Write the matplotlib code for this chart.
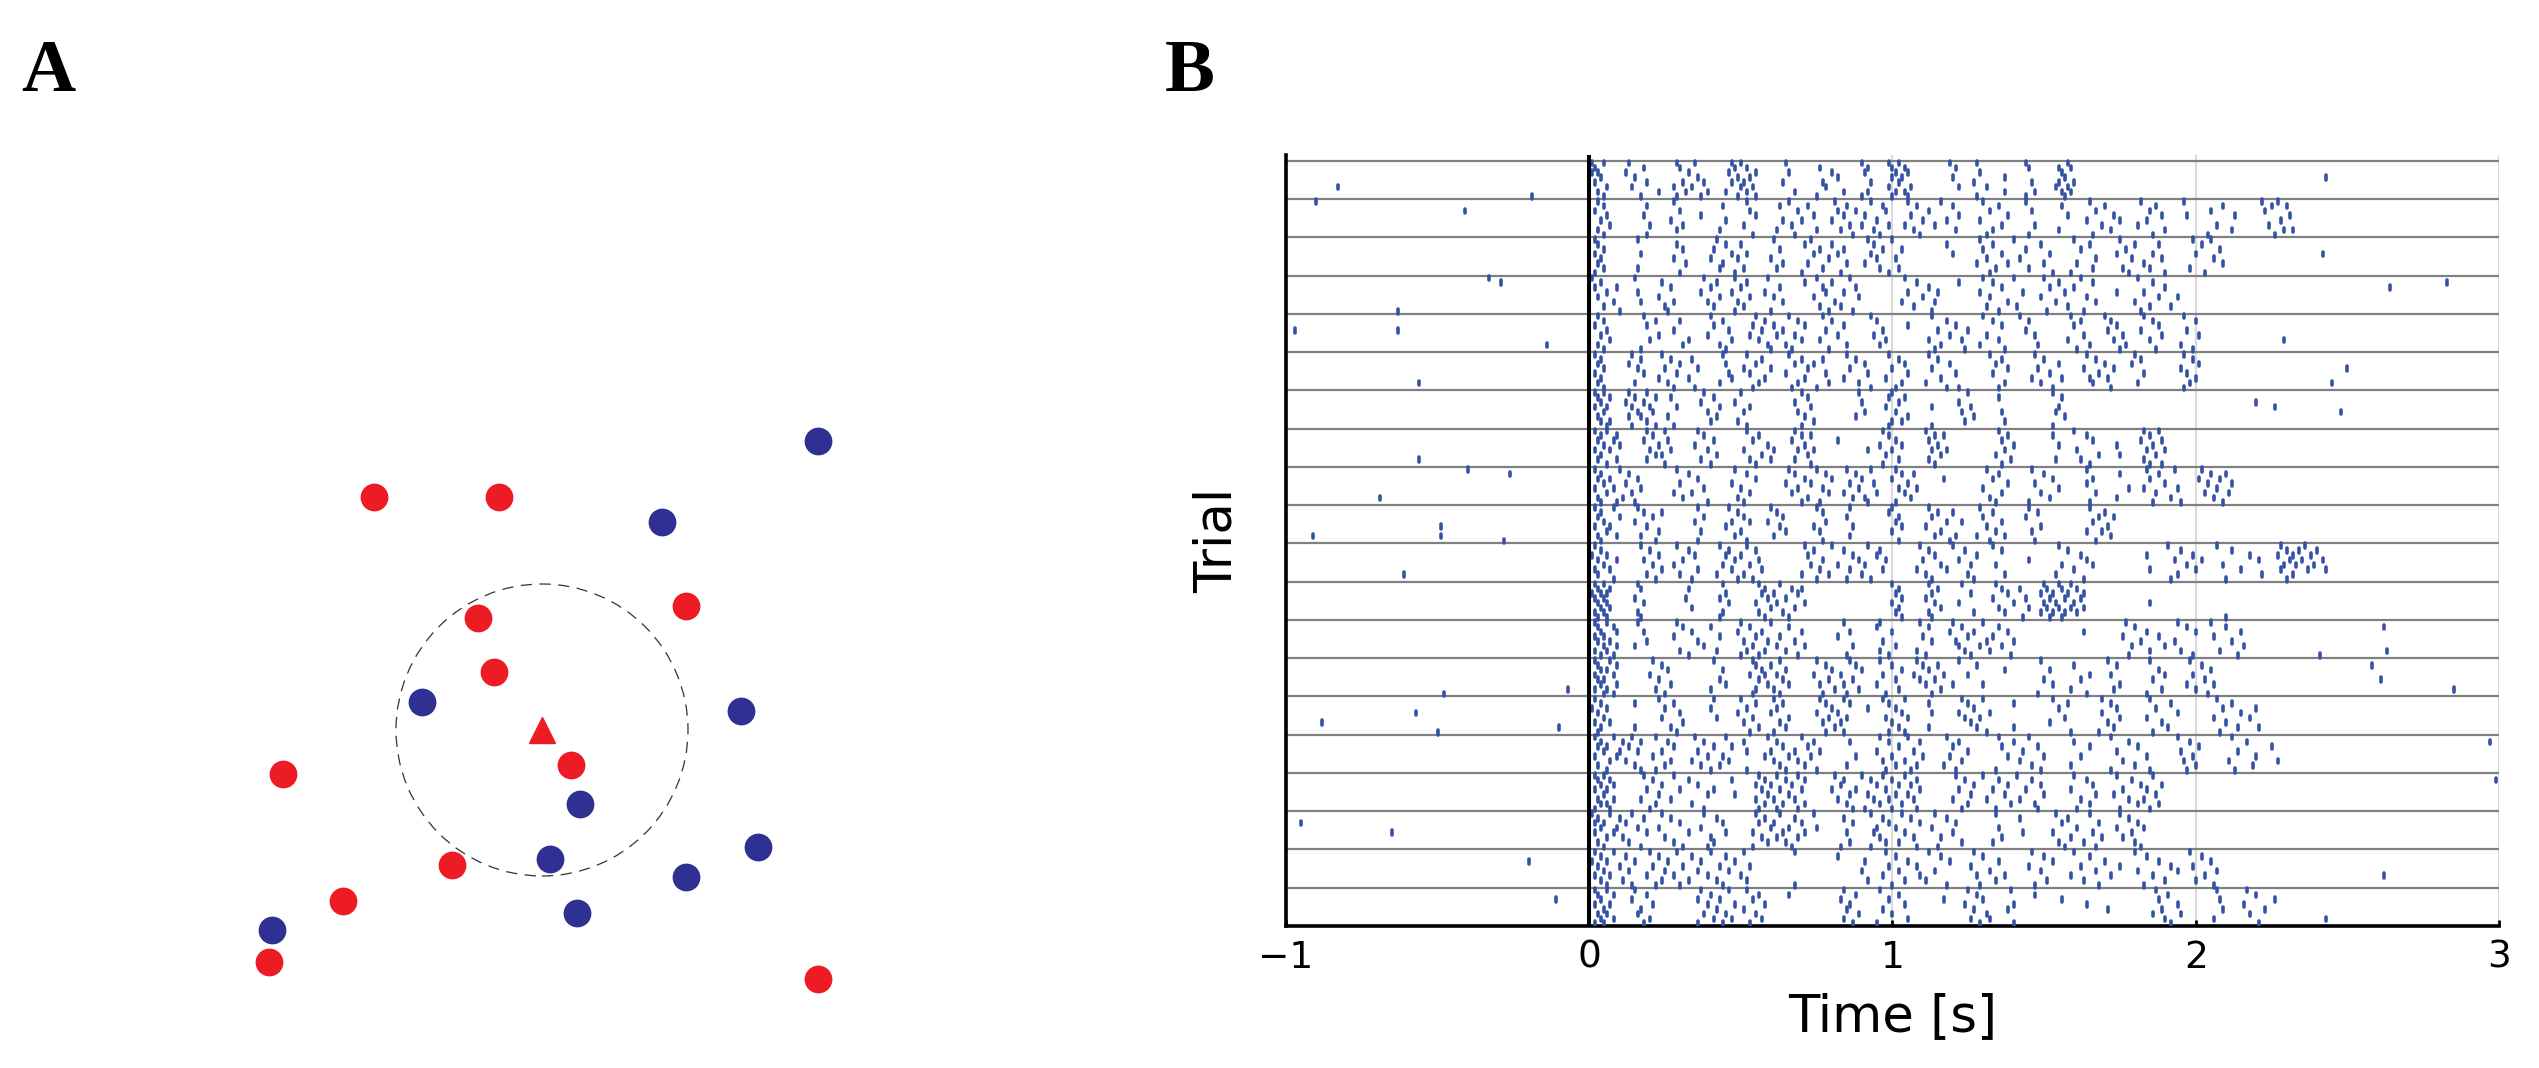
import matplotlib
matplotlib.use("Agg")
import matplotlib.pyplot as plt
from matplotlib.patches import Circle

# ---------------- panel A: positions (pixel-like units, y up) ----------------
blue_x = [818, 662, 422, 741, 580, 758, 550, 686, 577, 272]
blue_y = [627, 546, 366, 357, 264, 221, 209, 191, 155, 138]
red_x = [374, 499, 478, 686, 494, 571, 283, 452, 343, 269, 818]
red_y = [571, 571, 450, 462, 396, 303, 294, 203, 167, 106, 89]
target_xy = (542, 338)
radius = 146

# ---------------- panel B: spike times [s], 8 sub-rows per trial ----------------
trial_01 = [
    ".01 .05 .13 .29 .35 .47 .50 .65 .90 .99 1.02 1.19 1.28 1.44 1.58",
    ".02 .18 .30 .48 .52 .76 .92 1.00 1.04 1.21 1.45 1.55 1.59",
    ".01 .03 .12 .33 .46 .55 .66 .80 .91 1.01 1.05 1.29 1.56",
    ".04 .15 .36 .49 .53 .82 1.00 1.03 1.20 1.37 1.57 2.43",
    ".02 .19 .31 .38 .47 .51 .64 .77 .93 1.02 1.27 1.46 1.55 1.60",
    "-.83 .06 .14 .28 .34 .50 .54 .78 .99 1.06 1.22 1.31 1.54 1.58",
    ".03 .23 .32 .39 .45 .52 .68 .84 .92 1.01 1.04 1.37 1.47 1.56 1.59",
    "-.19 .05 .17 .29 .37 .49 .55 .75 .90 1.00 1.05 1.28 1.44 1.57",
]
trial_02 = [
    "-.90 .03 .28 .52 .66 .81 .93 1.05 1.16 1.30 1.44 1.65 1.82 1.96 2.22 2.27",
    ".05 .19 .44 .63 .72 .85 .97 1.08 1.20 1.35 1.56 1.70 1.87 2.09 2.25 2.30",
    "-.41 .02 .30 .53 .69 .82 .88 .98 1.12 1.32 1.46 1.67 1.85 2.05 2.23",
    ".06 .18 .37 .55 .74 .84 .91 1.06 1.22 1.38 1.58 1.73 1.89 1.97 2.13 2.31",
    ".04 .27 .45 .64 .70 .80 .95 1.10 1.18 1.29 1.64 1.75 1.84 2.28",
    ".07 .20 .31 .51 .67 .86 .90 .99 1.04 1.14 1.36 1.47 1.69 1.81 2.07 2.24",
    ".03 .29 .43 .62 .75 .83 .94 1.07 1.21 1.33 1.55 1.72 1.90 2.12 2.29 2.32",
    ".05 .19 .54 .68 .87 .96 1.09 1.31 1.45 1.66 1.86 2.04 2.26",
]
trial_03 = [
    ".02 .16 .42 .61 .73 .92 1.00 1.29 1.40 1.60 1.75 1.99 2.05",
    ".03 .29 .45 .50 .71 .80 .94 1.18 1.33 1.49 1.65 1.80 1.88 2.02",
    ".05 .31 .41 .63 .76 .84 .97 1.03 1.30 1.44 1.62 1.77 2.08",
    ".02 .17 .47 .52 .74 .82 .93 1.20 1.36 1.52 1.74 1.86 2.00 2.42",
    ".04 .28 .40 .49 .60 .79 .95 1.01 1.31 1.42 1.67 1.79 1.89 2.06",
    ".03 .32 .44 .64 .72 .85 .91 1.28 1.38 1.50 1.61 1.83 2.09",
    ".05 .16 .43 .51 .62 .77 .96 1.02 1.34 1.45 1.66 1.76 1.85 1.98",
    ".02 .30 .48 .70 .83 .99 1.32 1.53 1.59 1.78 1.90 2.03",
]
trial_04 = [
    "-.33 .01 .15 .38 .48 .59 .75 .86 1.04 1.30 1.40 1.50 1.62 1.81",
    "-.29 .04 .24 .42 .52 .71 .80 1.08 1.22 1.33 1.55 1.66 1.86 2.83",
    ".02 .09 .27 .40 .50 .63 .77 .88 1.12 1.36 1.52 1.60 1.90 2.64",
    ".06 .16 .37 .47 .58 .78 .84 1.05 1.15 1.29 1.43 1.57 1.74 1.83",
    ".03 .23 .43 .53 .61 .74 .89 1.10 1.32 1.49 1.64 1.88 1.94",
    ".08 .17 .28 .39 .49 .64 .81 1.03 1.14 1.38 1.54 1.67 1.80",
    ".05 .25 .41 .51 .76 .83 1.07 1.31 1.41 1.58 1.85 1.92",
    "-.63 .10 .26 .48 .60 .79 .87 1.13 1.35 1.51 1.63 1.82",
]
trial_05 = [
    ".03 .18 .40 .55 .66 .77 .93 1.13 1.30 1.42 1.59 1.70 1.83 1.96",
    ".05 .22 .30 .44 .58 .69 .80 .95 1.18 1.33 1.45 1.62 1.72 1.86 2.00",
    ".02 .19 .41 .54 .61 .71 .84 1.05 1.21 1.36 1.60 1.74 1.88",
    "-.97 -.63 .06 .28 .46 .57 .64 .78 .97 1.15 1.25 1.44 1.71 1.82 1.97",
    ".04 .23 .39 .53 .62 .68 .82 .94 1.19 1.31 1.47 1.63 1.76 1.89 2.01",
    ".07 .20 .33 .47 .56 .70 .76 .98 1.12 1.23 1.35 1.58 1.73 1.85 2.29",
    "-.14 .03 .31 .43 .59 .65 .85 .96 1.16 1.29 1.48 1.65 1.77 1.95",
    ".05 .17 .45 .60 .67 .79 1.14 1.24 1.37 1.61 1.75 1.87 1.99",
]
trial_06 = [
    ".02 .14 .24 .44 .52 .66 .85 .99 1.12 1.32 1.47 1.64 1.80 1.96",
    ".04 .17 .27 .34 .57 .70 .77 .88 1.02 1.15 1.36 1.50 1.67 1.82 1.99",
    ".03 .13 .30 .45 .55 .68 .74 .91 1.04 1.19 1.34 1.55 1.70 1.79 2.01",
    ".05 .16 .25 .36 .51 .60 .72 .86 1.00 1.13 1.38 1.48 1.63 1.73 1.95 2.50",
    ".02 .18 .29 .46 .53 .65 .78 .92 1.05 1.21 1.33 1.52 1.68 1.83 1.97",
    ".04 .23 .33 .47 .58 .71 .84 .98 1.16 1.46 1.56 1.65 1.71 2.00",
    "-.56 .03 .15 .26 .43 .56 .69 .79 .89 1.03 1.11 1.37 1.49 1.66 1.81 1.98 2.45",
    ".05 .28 .35 .54 .67 .75 .93 1.01 1.18 1.22 1.35 1.53 1.72 1.96",
]
trial_07 = [
    ".02 .05 .13 .19 .38 .50 .70 .89 1.00 1.25 1.53",
    ".03 .07 .15 .22 .27 .41 .72 .99 1.04 1.35 1.56",
    ".04 .12 .18 .37 .48 .68 .90 1.02 1.22 2.20",
    ".02 .06 .14 .20 .29 .43 .53 .73 .98 1.13 1.26 1.55 2.26",
    ".05 .16 .21 .39 .51 .69 .91 1.01 1.23 1.36 1.54 2.48",
    ".03 .13 .17 .26 .42 .71 .88 1.05 1.27 1.57",
    ".04 .07 .19 .40 .49 .74 1.00 1.03 1.24 1.37",
    ".06 .14 .22 .28 .52 .70 .99 1.13 1.53",
]
trial_08 = [
    ".02 .06 .19 .25 .36 .52 .68 .97 1.11 1.35 1.60 1.83 1.88",
    ".04 .09 .21 .38 .56 .70 .73 .99 1.14 1.17 1.38 1.53 1.64 1.85",
    ".03 .08 .18 .26 .41 .54 .67 .82 1.01 1.12 1.36 1.66 1.82 1.89",
    ".05 .10 .23 .35 .59 .71 .96 1.03 1.15 1.40 1.55 1.74 1.86",
    ".02 .07 .20 .27 .39 .51 .61 .69 .74 .92 1.00 1.13 1.18 1.37 1.61 1.84 1.90",
    ".04 .22 .24 .42 .57 .72 .98 1.16 1.34 1.68 1.75 1.87",
    "-.56 .03 .09 .19 .37 .53 .60 .68 1.02 1.12 1.39 1.54 1.62 1.83",
    ".06 .25 .40 .55 .73 .97 1.14 1.36 1.65 1.85 1.89",
]
trial_09 = [
    "-.40 .02 .10 .29 .48 .66 .75 .85 .93 1.01 1.31 1.46 1.64 1.84 1.93 2.02",
    "-.26 .04 .13 .33 .52 .68 .78 .88 1.03 1.07 1.35 1.50 1.75 1.88 2.05 2.10",
    ".03 .07 .16 .36 .55 .71 .80 .90 1.00 1.17 1.33 1.53 1.66 1.85 2.01 2.08",
    ".05 .12 .30 .47 .65 .73 .86 .94 1.05 1.38 1.47 1.64 1.90 2.04 2.12",
    ".02 .08 .17 .38 .50 .69 .77 .89 1.02 1.08 1.30 1.55 1.78 1.83 1.94 2.07",
    ".06 .14 .28 .34 .53 .67 .79 .84 .95 1.04 1.36 1.49 1.67 1.87 2.03 2.11",
    "-.69 .03 .11 .31 .49 .72 .87 .91 1.06 1.32 1.52 1.74 1.92 2.06",
    ".04 .09 .15 .39 .51 .70 .76 .92 1.01 1.34 1.45 1.65 1.86 1.95 2.09",
]
trial_10 = [
    ".02 .08 .16 .36 .46 .60 .75 .86 1.00 1.12 1.29 1.45 1.65",
    ".04 .18 .24 .49 .62 .77 .99 1.15 1.20 1.33 1.48 1.70",
    ".03 .10 .21 .38 .51 .64 .85 1.02 1.13 1.30 1.44 1.68 1.73",
    ".05 .15 .35 .47 .53 .59 .78 1.01 1.18 1.23 1.36 1.66",
    "-.49 .02 .07 .19 .45 .63 .74 .87 1.03 1.11 1.31 1.49 1.71",
    ".06 .23 .37 .50 .65 .76 1.00 1.16 1.34 1.46 1.64 1.69",
    "-.91 -.49 .03 .09 .17 .48 .61 .86 1.14 1.21 1.28 1.37 1.72",
    "-.28 .04 .22 .36 .52 .77 1.02 1.19 1.32 1.47 1.67",
]
trial_11 = [
    ".02 .17 .29 .43 .52 .71 .80 .92 1.09 1.20 1.33 1.55 1.91 2.07 2.28 2.36",
    ".04 .20 .33 .46 .55 .74 .84 .96 1.12 1.24 1.36 1.58 1.95 2.12 2.30 2.34 2.40",
    ".01 .06 .23 .35 .45 .50 .72 .87 .95 1.14 1.28 1.62 1.84 1.99 2.18 2.27 2.32 2.38",
    ".03 .09 .18 .31 .48 .56 .77 .89 .98 1.10 1.22 1.45 1.64 1.93 2.02 2.21 2.31 2.35 2.42",
    ".05 .21 .28 .44 .53 .73 .82 .91 1.16 1.26 1.34 1.56 1.66 1.97 2.09 2.29 2.33 2.39",
    ".02 .07 .24 .36 .47 .57 .76 .86 .97 1.08 1.18 1.60 1.85 2.00 2.15 2.28 2.37 2.43",
    "-.61 .03 .19 .30 .42 .51 .70 .79 .90 1.11 1.25 1.37 1.54 1.94 2.22 2.32",
    ".08 .22 .34 .49 .54 .75 .85 .93 1.13 1.27 1.63 1.92 2.10 2.30",
]
trial_12 = [
    ".02 .05 .16 .44 .56 .63 1.00 1.12 1.23 1.34 1.50 1.55 1.59",
    ".03 .07 .17 .33 .58 .67 .70 1.02 1.15 1.36 1.42 1.51 1.56 1.61",
    ".01 .04 .06 .45 .57 .61 .69 1.01 1.13 1.26 1.38 1.49 1.53 1.58 1.63",
    ".02 .05 .15 .32 .43 .59 .65 1.03 1.11 1.33 1.44 1.52 1.57 1.62",
    ".03 .06 .18 .46 .55 .62 .71 1.00 1.14 1.22 1.40 1.50 1.54 1.60 1.85",
    ".04 .07 .34 .60 .68 1.02 1.16 1.35 1.45 1.51 1.55 1.59 1.63",
    ".02 .05 .16 .44 .56 .64 1.01 1.12 1.27 1.37 1.49 1.53 1.57 1.61",
    ".03 .06 .17 .43 .58 .66 1.03 1.13 1.43 1.52 1.56 2.10",
]
trial_13 = [
    ".02 .06 .16 .29 .50 .60 .84 .96 1.09 1.20 1.30 1.77 1.94 2.05",
    ".03 .08 .31 .40 .53 .66 .95 1.12 1.23 1.35 1.80 1.97 2.10 2.62",
    ".04 .09 .18 .34 .49 .57 .70 .86 1.00 1.19 1.27 1.38 1.63 1.84 2.00 2.15",
    ".02 .05 .28 .43 .55 .63 .82 1.10 1.25 1.33 1.76 1.88 2.06",
    ".03 .07 .19 .36 .51 .59 .68 .97 1.13 1.21 1.31 1.40 1.82 1.93 2.12",
    ".05 .09 .15 .38 .54 .62 .71 .87 1.01 1.22 1.29 1.36 1.79 1.90 2.16",
    ".02 .06 .30 .42 .52 .58 .65 .96 1.08 1.24 1.32 1.85 1.95 2.08 2.63",
    ".04 .08 .33 .50 .56 .69 .85 .99 1.11 1.26 1.39 1.78 1.99 2.14 2.41",
]
trial_14 = [
    ".02 .07 .21 .41 .54 .63 .75 .86 .96 1.08 1.22 1.49 1.71 1.85 1.98",
    ".03 .09 .24 .55 .60 .78 .88 1.00 1.10 1.15 1.28 1.60 1.74 2.02 2.58",
    ".04 .06 .26 .44 .57 .65 .80 .90 1.03 1.12 1.37 1.52 1.88 2.05",
    ".02 .08 .20 .53 .58 .62 .74 .83 .97 1.07 1.17 1.25 1.65 1.72 1.90 1.99",
    ".03 .05 .23 .43 .56 .64 .79 .87 1.01 1.09 1.14 1.50 1.62 1.86 2.03 2.61",
    ".04 .09 .27 .45 .59 .66 .76 .84 .95 1.11 1.20 1.30 1.53 1.75 1.97 2.06",
    "-.07 .02 .06 .22 .40 .55 .61 .81 .89 1.02 1.16 1.59 1.73 1.89 2.00 2.85",
    "-.48 .05 .08 .25 .54 .63 .77 .85 .98 1.13 1.48 1.64 1.84 2.04",
]
trial_15 = [
    ".02 .23 .41 .50 .61 .76 .84 .97 1.04 1.23 1.30 1.53 1.69 1.85 2.07",
    ".04 .15 .28 .55 .64 .78 .86 .99 1.12 1.25 1.40 1.58 1.72 1.92 2.12",
    ".01 .06 .25 .40 .52 .62 .80 .92 1.01 1.27 1.55 1.74 1.87 2.09 2.20",
    "-.57 .03 .30 .49 .60 .75 .82 1.03 1.13 1.22 1.32 1.69 1.94 2.15",
    ".05 .24 .42 .54 .66 .79 .85 .98 1.05 1.24 1.29 1.57 1.75 1.84 2.06 2.18",
    "-.88 .02 .07 .31 .51 .63 .77 .83 1.00 1.26 1.52 1.71 1.89 2.10",
    "-.10 .04 .15 .27 .56 .65 .81 1.02 1.12 1.28 1.40 1.73 1.91 2.14 2.21",
    "-.50 .03 .29 .53 .61 .78 .84 .99 1.04 1.31 1.59 1.68 1.86 2.08",
]
trial_16 = [
    ".02 .08 .14 .22 .35 .45 .59 .70 .96 1.05 1.18 1.35 1.45 1.72 1.94 2.12",
    ".04 .11 .17 .26 .38 .51 .62 .74 .86 .99 1.09 1.22 1.40 1.60 1.78 1.98 2.17 2.97",
    ".03 .06 .13 .28 .41 .47 .64 .72 1.02 1.20 1.36 1.48 1.65 1.81 2.01 2.25",
    ".05 .10 .16 .24 .36 .52 .60 .68 .76 .95 1.07 1.25 1.43 1.74 1.95 2.14",
    ".02 .09 .21 .39 .44 .58 .66 .73 .88 1.00 1.10 1.19 1.38 1.50 1.62 1.84 1.99 2.20",
    ".07 .12 .27 .34 .46 .61 .69 .97 1.04 1.23 1.42 1.76 1.96 2.11 2.27",
    ".03 .15 .25 .37 .43 .63 .71 .85 1.01 1.08 1.17 1.46 1.59 1.80 2.00 2.19",
    ".06 .17 .22 .40 .52 .65 .75 .98 1.06 1.21 1.34 1.49 1.72 1.85 1.97 2.13",
]
trial_17 = [
    ".02 .05 .18 .28 .56 .62 .69 .81 .90 .97 1.04 1.21 1.30 1.41 1.60 1.74 1.86",
    ".03 .07 .21 .33 .47 .58 .65 .71 .84 .93 1.00 1.08 1.24 1.35 1.46 1.64 1.79 2.99",
    ".04 .08 .24 .36 .55 .60 .67 .83 .95 1.02 1.06 1.27 1.38 1.49 1.66 1.82 1.89",
    ".02 .06 .19 .30 .41 .57 .63 .70 .80 .88 .98 1.09 1.22 1.33 1.44 1.59 1.76 1.84",
    ".05 .23 .39 .48 .59 .66 .86 .92 1.01 1.05 1.26 1.37 1.50 1.67 1.73 1.87",
    ".03 .08 .17 .27 .55 .61 .68 .82 .94 .99 1.07 1.20 1.31 1.42 1.62 1.78 1.83",
    ".04 .06 .22 .34 .58 .64 .71 .85 .96 1.03 1.25 1.39 1.47 1.65 1.81 1.88",
    ".02 .07 .20 .38 .56 .62 .69 .87 .91 1.00 1.08 1.23 1.34 1.48 1.61 1.75 1.85",
]
trial_18 = [
    ".01 .07 .14 .24 .38 .55 .63 .74 .93 1.03 1.14 1.34 1.54 1.65 1.75",
    ".03 .10 .18 .27 .42 .58 .68 .84 .97 1.06 1.18 1.42 1.58 1.78",
    "-.95 .02 .05 .12 .30 .44 .56 .61 .70 .87 .99 1.09 1.21 1.56 1.68 1.81",
    ".04 .09 .16 .23 .37 .60 .66 .75 .95 1.01 1.13 1.35 1.61 1.74 1.83",
    "-.65 .02 .08 .19 .33 .45 .54 .64 .71 .85 .94 1.04 1.20 1.43 1.53 1.66 1.79",
    ".06 .11 .25 .40 .57 .62 .69 .96 1.07 1.16 1.36 1.59 1.69 1.76",
    ".03 .13 .28 .41 .59 .65 .86 .98 1.02 1.23 1.33 1.55 1.63 1.80",
    ".05 .17 .31 .39 .54 .67 .83 .93 1.08 1.15 1.57 1.67 1.82",
]
trial_19 = [
    ".02 .08 .20 .29 .40 .51 .68 .98 1.12 1.27 1.46 1.60 1.80 1.98",
    ".04 .12 .23 .34 .45 .82 1.01 1.16 1.30 1.50 1.65 1.84 2.02",
    "-.20 .01 .06 .15 .26 .37 .48 .91 1.05 1.19 1.35 1.53 1.70 1.88 2.05",
    ".03 .10 .21 .31 .43 .53 .99 1.08 1.26 1.45 1.62 1.75 1.92 1.99",
    ".05 .13 .25 .36 .46 .90 1.02 1.14 1.32 1.49 1.67 1.81 1.94 2.07",
    ".02 .07 .19 .28 .39 .50 .97 1.09 1.28 1.37 1.59 1.72 1.86 2.03 2.62",
    ".04 .11 .24 .33 .42 .52 .92 1.04 1.11 1.34 1.51 1.63 1.90 2.00",
    ".06 .14 .22 .30 .44 .68 1.00 1.18 1.29 1.47 1.68 1.83 2.06",
]
trial_20 = [
    ".02 .06 .15 .37 .46 .52 .84 .96 1.25 1.39 1.87 2.07 2.17",
    ".03 .08 .19 .40 .56 .66 .88 1.02 1.28 1.47 1.91 2.20",
    "-.11 .04 .14 .36 .43 .54 .83 .99 1.17 1.30 1.56 1.88 2.08 2.26",
    ".02 .07 .21 .39 .48 .58 .86 1.04 1.24 1.40 1.64 1.94 2.16",
    ".05 .17 .42 .51 .85 .97 1.27 1.38 1.71 1.89 2.09 2.23",
    ".03 .06 .16 .38 .45 .55 .89 1.00 1.31 1.86 1.95 2.18",
    ".04 .08 .20 .41 .47 .57 .84 1.05 1.26 1.32 1.90 2.06 2.43",
    ".02 .05 .18 .36 .44 .53 .87 .95 1.29 1.40 1.92 2.21",
]
trials = [trial_01, trial_02, trial_03, trial_04, trial_05, trial_06, trial_07,
          trial_08, trial_09, trial_10, trial_11, trial_12, trial_13, trial_14,
          trial_15, trial_16, trial_17, trial_18, trial_19, trial_20]
x_ticks = [-1, 0, 1, 2, 3]

RED = "#ed1c24"
BLUE = "#2e3192"
SPIKE = "#3452a4"

fig = plt.figure(figsize=(25.39, 10.68), dpi=100)

# ---- panel A ----
axa = fig.add_axes([0, 0, 1000 / 2539, 1])
axa.set_xlim(0, 1000)
axa.set_ylim(0, 1068)
axa.axis("off")
axa.add_patch(Circle(target_xy, radius, fill=False, edgecolor="#333333",
                     linewidth=0.9, linestyle=(0, (9, 6))))
axa.scatter(blue_x, blue_y, s=400, color=BLUE, linewidths=0)
axa.scatter(red_x, red_y, s=400, color=RED, linewidths=0)
axa.plot([target_xy[0]], [target_xy[1]], marker="^", markersize=19,
         color=RED, linestyle="none")

# ---- panel B ----
ax = fig.add_axes([1286 / 2539, 1 - 926 / 1068, 1213 / 2539, 771 / 1068])
n_rows = 8
tick_len = 0.12
for k, rows in enumerate(trials):
    for r, s in enumerate(rows):
        ts = [float(v) for v in s.split()]
        y = k + (r + 0.5) / n_rows
        ax.vlines(ts, y - tick_len / 2, y + tick_len / 2, color=SPIKE,
                  linewidth=2.6, capstyle="round", zorder=3)

ax.hlines(range(len(trials)), -1, 3, color="#808080", linewidth=1.6, zorder=2)
ax.axvline(0, color="black", linewidth=2.9, zorder=4)
ax.set_xlim(-1, 3)
ax.set_ylim(len(trials), -0.15)
ax.set_xticks(x_ticks)
ax.set_yticks([])
ax.grid(axis="x", color="#d9d9d9", linewidth=1.5, zorder=1)
ax.set_axisbelow(True)
for side in ["top", "right"]:
    ax.spines[side].set_visible(False)
for side in ["left", "bottom"]:
    ax.spines[side].set_linewidth(2.6)
ax.tick_params(axis="x", direction="in", length=4, width=2, labelsize=27, pad=10)
ax.set_xlabel("Time [s]", fontsize=37, labelpad=12)
ax.set_ylabel("Trial", fontsize=37)
ax.yaxis.set_label_coords(-0.036, 0.5)

# panel letters
fig.text(48 / 2539, 1 - 73 / 1068, "A", fontsize=54, fontweight="bold",
         family="Liberation Serif", ha="center", va="center")
fig.text(1190 / 2539, 1 - 73 / 1068, "B", fontsize=54, fontweight="bold",
         family="Liberation Serif", ha="center", va="center")

fig.savefig("out.png", dpi=100)
